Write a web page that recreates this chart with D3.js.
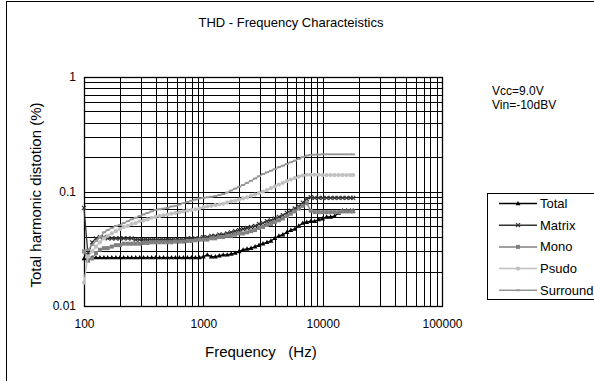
<!DOCTYPE html>
<html><head><meta charset="utf-8">
<script src="https://cdn.jsdelivr.net/npm/d3@7"></script>
<style>body{margin:0;background:#fff}svg{display:block;font-family:"Liberation Sans",Arial,sans-serif}</style>
</head><body>
<svg id="c" width="594" height="381"></svg>
<script>
const freqs = [100,108,117,126,136,147,158,171,185,200,215,233,251,271,293,316,341,369,398,430,464,501,541,584,631,681,736,794,858,926,
  1000,1080,1166,1259,1359,1468,1585,1711,1848,1995,2154,2326,2512,2712,2929,3162,3415,3687,3981,4299,4642,5012,5412,5843,6310,6813,7356,7943,8577,9261,
  10000,10798,11659,12589,13594,14678,15849,17113,18000];
const total = [0.026,0.025,0.0265,0.0265,0.0265,0.0265,0.0265,0.0265,0.0265,0.0265,0.0265,0.0265,0.0265,0.0265,0.0265,0.0265,0.0265,0.0265,0.0265,0.0265,0.0265,0.0265,0.0265,0.0265,0.0265,0.0265,0.0265,0.0265,0.0265,0.0265,
  0.027,0.028,0.027,0.027,0.0275,0.028,0.028,0.0285,0.029,0.030,0.031,0.0315,0.032,0.033,0.034,0.035,0.036,0.037,0.039,0.041,0.042,0.044,0.046,0.047,0.050,0.053,0.054,0.055,0.055,0.057,
  0.058,0.060,0.060,0.061,0.065,0.068,0.068,0.068,0.068];
const matrix = [0.072,0.028,0.036,0.039,0.040,0.040,0.039,0.039,0.039,0.039,0.039,0.039,0.039,0.038,0.038,0.038,0.038,0.038,0.038,0.038,0.038,0.038,0.038,0.038,0.038,0.038,0.039,0.039,0.039,0.039,
  0.040,0.040,0.041,0.041,0.042,0.042,0.043,0.044,0.045,0.046,0.047,0.048,0.049,0.050,0.052,0.053,0.055,0.056,0.058,0.060,0.062,0.065,0.068,0.071,0.074,0.080,0.086,0.089,0.088,0.088,
  0.088,0.088,0.088,0.088,0.088,0.088,0.088,0.088,0.088];
const mono = [0.030,0.025,0.026,0.029,0.031,0.032,0.032,0.033,0.034,0.034,0.035,0.035,0.035,0.035,0.035,0.0355,0.0355,0.036,0.036,0.036,0.036,0.036,0.036,0.0365,0.0365,0.0365,0.037,0.037,0.0375,0.038,
  0.038,0.038,0.039,0.039,0.040,0.040,0.041,0.041,0.042,0.043,0.043,0.044,0.045,0.046,0.048,0.049,0.051,0.052,0.054,0.056,0.058,0.061,0.064,0.067,0.071,0.075,0.079,0.068,0.066,0.066,
  0.066,0.066,0.066,0.066,0.066,0.067,0.067,0.067,0.067];
const psudo = [0.016,0.027,0.030,0.033,0.036,0.039,0.041,0.043,0.045,0.047,0.049,0.050,0.052,0.053,0.055,0.056,0.057,0.059,0.060,0.061,0.062,0.063,0.064,0.065,0.066,0.067,0.068,0.069,0.070,0.071,
  0.073,0.074,0.075,0.076,0.077,0.078,0.080,0.082,0.083,0.085,0.087,0.089,0.092,0.094,0.097,0.100,0.103,0.107,0.111,0.115,0.119,0.123,0.127,0.131,0.135,0.138,0.140,0.140,0.140,0.140,
  0.139,0.139,0.139,0.139,0.139,0.139,0.139,0.139,0.139];
const surround = [0.030,0.031,0.034,0.037,0.040,0.044,0.046,0.048,0.050,0.051,0.053,0.055,0.057,0.059,0.061,0.063,0.065,0.067,0.069,0.070,0.071,0.072,0.074,0.075,0.077,0.079,0.081,0.083,0.085,0.087,
  0.088,0.089,0.090,0.091,0.093,0.095,0.098,0.102,0.106,0.110,0.114,0.119,0.124,0.130,0.136,0.142,0.147,0.152,0.157,0.163,0.168,0.174,0.180,0.186,0.193,0.200,0.206,0.209,0.210,0.210,
  0.211,0.211,0.211,0.211,0.211,0.211,0.211,0.211,0.211];
const seriesNames = ["Total","Matrix","Mono","Psudo","Surround"];
const xTickLabels = [100,1000,10000,100000];
const yTickLabels = [0.01,0.1,1];

const series = [
  {name:"Total", values:total, color:"#000000", marker:"tri"},
  {name:"Matrix", values:matrix, color:"#333333", marker:"star"},
  {name:"Mono", values:mono, color:"#808080", marker:"sq"},
  {name:"Psudo", values:psudo, color:"#c0c0c0", marker:"circ"},
  {name:"Surround", values:surround, color:"#969696", marker:"dash"}
];

const svg = d3.select("#c");
svg.append("rect").attr("x",6.5).attr("y",1.5).attr("width",620).attr("height",420)
  .attr("fill","#fff").attr("stroke","#000").attr("stroke-width",1);

const L=84, R=442, T=77, B=306;
const x = d3.scaleLog().domain([100,100000]).range([L,R]);
const y = d3.scaleLog().domain([0.01,1]).range([B,T]);

const g = svg.append("g");
const xGrid=[], yGrid=[];
for (let d=100; d<100000; d*=10) for (let m=1;m<10;m++) xGrid.push(d*m);
for (let d=0.01; d<0.99; d*=10) for (let m=1;m<10;m++) yGrid.push(d*m);
g.selectAll(".vg").data(xGrid).join("line")
  .attr("x1",d=>Math.round(x(d))+0.5).attr("x2",d=>Math.round(x(d))+0.5).attr("y1",T).attr("y2",B)
  .attr("stroke","#000").attr("stroke-width",1);
g.selectAll(".hg").data(yGrid).join("line")
  .attr("y1",d=>Math.round(y(d))+0.5).attr("y2",d=>Math.round(y(d))+0.5).attr("x1",L).attr("x2",R)
  .attr("stroke","#000").attr("stroke-width",1);
g.append("rect").attr("x",L+0.5).attr("y",T+0.5).attr("width",R-L).attr("height",B-T)
  .attr("fill","none").attr("stroke","#000").attr("stroke-width",1.3);

const xa = d3.axisBottom(x).tickValues(xTickLabels).tickFormat(d3.format("d")).tickSize(0).tickPadding(13);
const xg = svg.append("g").attr("transform",`translate(0,${B})`).call(xa);
xg.select(".domain").remove();
xg.selectAll("text").attr("font-size",12).attr("font-family","Liberation Sans, Arial, sans-serif").attr("fill","#000");
const ya = d3.axisLeft(y).tickValues(yTickLabels).tickFormat(d=>String(d)).tickSize(0).tickPadding(8);
const yg = svg.append("g").attr("transform",`translate(${L},0)`).call(ya);
yg.select(".domain").remove();
yg.selectAll("text").attr("font-size",12).attr("font-family","Liberation Sans, Arial, sans-serif").attr("fill","#000");

svg.append("text").attr("x",291).attr("y",27).attr("text-anchor","middle").attr("font-size",13).text("THD - Frequency Characteistics");
svg.append("text").attr("x",205).attr("y",357).attr("text-anchor","start").attr("font-size",15).attr("xml:space","preserve").text("Frequency   (Hz)");
svg.append("text").attr("transform","translate(41,195) rotate(-90)").attr("text-anchor","middle").attr("font-size",15).text("Total harmonic distotion (%)");
svg.append("text").attr("x",492).attr("y",95).attr("font-size",12).text("Vcc=9.0V");
svg.append("text").attr("x",492).attr("y",109).attr("font-size",12).text("Vin=-10dBV");

function drawMarker(sel, type, color){
  if (type==="tri") sel.append("path").attr("d","M0,-2.6L2.4,1.8L-2.4,1.8Z").attr("fill",color);
  else if (type==="star") sel.append("path").attr("d","M-2,-2L2,2M-2,2L2,-2").attr("stroke",color).attr("stroke-width",1.2);
  else if (type==="sq") sel.append("rect").attr("x",-2).attr("y",-2).attr("width",4).attr("height",4).attr("fill",color);
  else if (type==="circ") sel.append("circle").attr("r",2.1).attr("fill",color);
  else if (type==="dash") sel.append("path").attr("d","M-2,0L2,0").attr("stroke",color).attr("stroke-width",1.8);
}

const line = d3.line().x(d=>x(d[0])).y(d=>y(d[1]));
series.forEach(s=>{
  const pts = freqs.map((f,i)=>[f,s.values[i]]);
  const sg = svg.append("g");
  sg.append("path").attr("d",line(pts)).attr("fill","none").attr("stroke",s.color).attr("stroke-width",1.3);
  pts.forEach(p=>{
    const m = sg.append("g").attr("transform",`translate(${x(p[0])},${y(p[1])})`);
    drawMarker(m,s.marker,s.color);
  });
});

const lg = svg.append("g");
lg.append("rect").attr("x",487.5).attr("y",193.5).attr("width",130).attr("height",106).attr("fill","#fff").attr("stroke","#000").attr("stroke-width",1);
series.forEach((s,i)=>{
  const yy = 203.5 + i*21.7;
  lg.append("line").attr("x1",499).attr("x2",537).attr("y1",yy).attr("y2",yy).attr("stroke",s.color).attr("stroke-width",1.5);
  const m = lg.append("g").attr("transform",`translate(518,${yy})`);
  drawMarker(m,s.marker,s.color);
  lg.append("text").attr("x",540).attr("y",yy+4.5).attr("font-size",13).text(s.name);
});
</script>
</body></html>
